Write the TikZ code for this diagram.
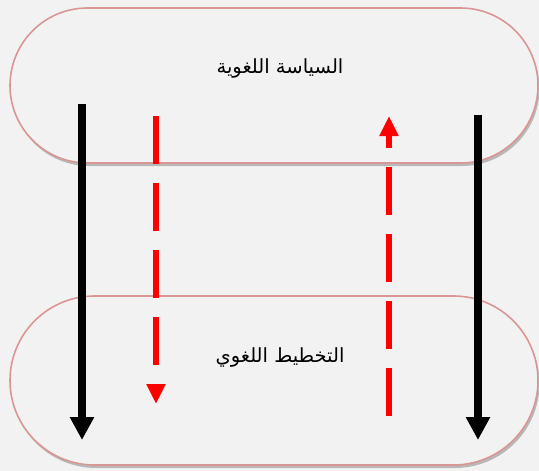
\documentclass[tikz,border=0pt]{standalone}
\usepackage{fontspec}
\newfontfamily\arabicfont[Script=Arabic]{DejaVu Sans}
\TeXXeTstate=1
\usetikzlibrary{shapes.misc,arrows.meta,shadows}
\definecolor{bg}{HTML}{F2F2F2}
\definecolor{rim}{HTML}{D99694}
\definecolor{arrred}{HTML}{FF0000}
\tikzset{
  stadium/.style={rounded rectangle, draw=rim, line width=1.6pt, fill=bg,
    minimum width=528pt, inner sep=0pt,
    drop shadow={shadow xshift=1.5pt, shadow yshift=-3pt, opacity=0.45, fill=black!55}},
  label/.style={font=\arabicfont\fontsize{19.5}{22}\selectfont, text=black},
  blackarrow/.style={draw=black, line width=8pt, -{Triangle[width=23pt,length=23pt]}},
  redarrow/.style={draw=arrred, line width=6pt, dash pattern=on 48pt off 19pt,
    -{Triangle[width=18pt,length=20pt]}}
}
\begin{document}
\begin{tikzpicture}[x=1pt,y=-1pt]
\fill[bg] (0,0) rectangle (539,471);
\useasboundingbox (0,0) rectangle (539,471);
\node[stadium, minimum height=155pt] (policy) at (274,85.5) {};
\node[stadium, minimum height=169pt] (planning) at (274,380.5) {};
\node[label] (policytext) at (280,68) {\beginR السياسة اللغوية\endR};
\node[label] (planningtext) at (280,357) {\beginR التخطيط اللغوي\endR};
\coordinate (bl1) at (82,104);
\coordinate (bl2) at (82,440);
\coordinate (br1) at (478,115);
\coordinate (br2) at (478,440);
\coordinate (rl1) at (156,116);
\coordinate (rl2) at (156,404);
\coordinate (rr1) at (389,416);
\coordinate (rr2) at (389,116);
\draw[blackarrow] (bl1) -- (bl2);
\draw[blackarrow] (br1) -- (br2);
\draw[redarrow] (rl1) -- (rl2);
\draw[redarrow] (rr1) -- (rr2);
\end{tikzpicture}
\end{document}
